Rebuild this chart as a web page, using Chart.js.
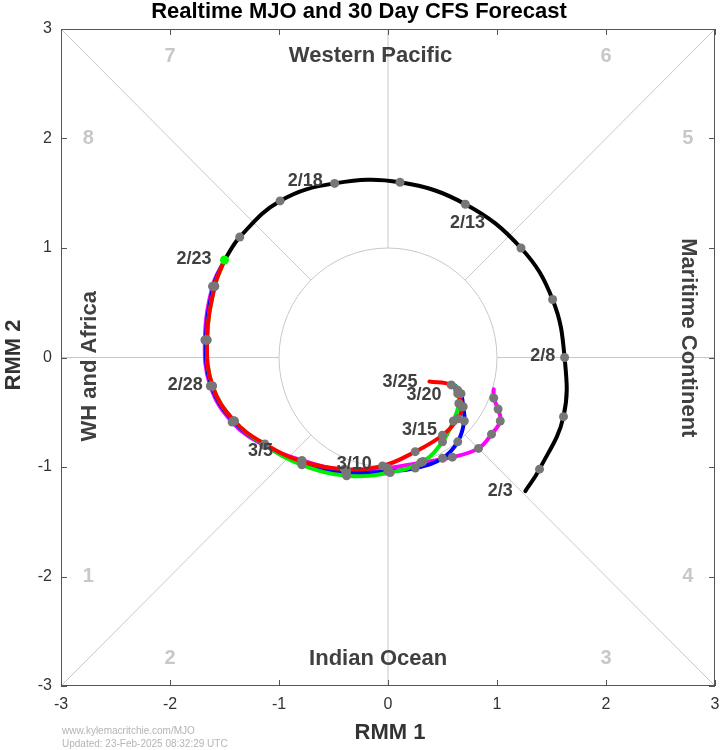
<!DOCTYPE html>
<html>
<head>
<meta charset="utf-8">
<title>Realtime MJO and 30 Day CFS Forecast</title>
<script src="https://cdn.jsdelivr.net/npm/chart.js@4.4.1/dist/chart.umd.min.js"></script>
<style>
  html, body { margin: 0; padding: 0; background: #fff; }
</style>
</head>
<body>
<canvas id="mjo" width="720" height="750"></canvas>
<script>
// observed RMM index, 2/3 -> 2/23 (last point = today)
const obsX = [1.26, 1.39, 1.61, 1.62, 1.51, 1.22, 0.71, 0.11, -0.49, -0.99, -1.36, -1.50];
const obsY = [-1.22, -1.02, -0.54, 0.00, 0.53, 1.00, 1.40, 1.60, 1.59, 1.43, 1.10, 0.89];

// CFS forecast members, all starting from 2/23
const redX = [-1.50, -1.59, -1.66, -1.61, -1.41, -1.13, -0.79, -0.40, -0.05, 0.25, 0.50, 0.64, 0.68, 0.64, 0.58, 0.38];
const redY = [0.89, 0.65, 0.16, -0.26, -0.58, -0.79, -0.95, -1.02, -0.99, -0.86, -0.71, -0.56, -0.45, -0.33, -0.25, -0.22];
const greenX = [-1.50, -1.59, -1.66, -1.61, -1.41, -1.13, -0.79, -0.38, 0.02, 0.32, 0.50, 0.60, 0.65, 0.64, 0.60];
const greenY = [0.89, 0.65, 0.16, -0.26, -0.58, -0.80, -0.98, -1.08, -1.05, -0.95, -0.77, -0.58, -0.42, -0.30, -0.24];
const blueX = [-1.50, -1.60, -1.67, -1.62, -1.42, -1.13, -0.79, -0.38, 0.00, 0.25, 0.50, 0.64, 0.70, 0.69, 0.67, 0.62];
const blueY = [0.89, 0.65, 0.16, -0.26, -0.58, -0.80, -0.97, -1.05, -1.04, -1.01, -0.92, -0.77, -0.58, -0.45, -0.33, -0.26];
const magentaX = [-1.50, -1.61, -1.68, -1.63, -1.43, -1.14, -0.79, -0.38, 0.00, 0.30, 0.59, 0.83, 0.95, 1.03, 1.01, 0.97, 0.97];
const magentaY = [0.89, 0.65, 0.16, -0.26, -0.59, -0.80, -0.94, -1.03, -1.01, -0.96, -0.91, -0.83, -0.70, -0.58, -0.47, -0.37, -0.29];

// date labels (centre of each label, RMM units)
const dateText = ['2/3', '2/8', '2/13', '2/18', '2/23', '2/28', '3/5', '3/10', '3/15', '3/20', '3/25'];
const dateX = [1.03, 1.42, 0.73, -0.76, -1.78, -1.86, -1.17, -0.31, 0.29, 0.33, 0.11];
const dateY = [-1.22, 0.01, 1.23, 1.61, 0.90, -0.25, -0.85, -0.97, -0.66, -0.34, -0.22];

const axisTicks = [-3, -2, -1, 0, 1, 2, 3];

// phase numbers
const phaseText = ['1', '2', '3', '4', '5', '6', '7', '8'];
const phaseX = [-2.75, -2.0, 2.0, 2.75, 2.75, 2.0, -2.0, -2.75];
const phaseY = [-2.0, -2.75, -2.75, -2.0, 2.0, 2.75, 2.75, 2.0];

// region names
const regionText = ['Western Pacific', 'Indian Ocean', 'WH and Africa', 'Maritime Continent'];
const regionX = [-0.16, -0.09, -2.73, 2.75];
const regionY = [2.75, -2.75, -0.08, 0.18];
const regionRot = [0, 0, -90, 90];

function pts(xs, ys) {
    return xs.map(function (v, i) { return { x: v, y: ys[i] }; });
}

// inner points only (no dot on the very first / last vertex)
function inner(xs, ys) {
    return pts(xs, ys).slice(1, xs.length - 1);
}

function track(label, xs, ys, color, order) {
    return {
        label: label,
        data: pts(xs, ys),
        showLine: true,
        borderColor: color,
        borderWidth: 4,
        tension: 0.4,
        pointRadius: 0,
        borderCapStyle: 'round',
        borderJoinStyle: 'round',
        order: order
    };
}

function dots(data, color) {
    return {
        data: data,
        showLine: false,
        pointRadius: 4.5,
        pointBackgroundColor: color,
        pointBorderWidth: 0,
        order: 0
    };
}

const forecastDots = [].concat(
    inner(magentaX, magentaY),
    inner(blueX, blueY),
    inner(greenX, greenY),
    inner(redX, redY)
);

const LIGHT = '#c8c8c8';
const DARK = '#404040';

const mjoDecor = {
    id: 'mjoDecor',
    beforeDatasetsDraw(chart) {
        const { ctx, scales: { x, y } } = chart;
        ctx.save();
        ctx.strokeStyle = LIGHT;
        ctx.lineWidth = 1;

        // spokes from unit circle to the frame
        ctx.beginPath();
        for (let k = 0; k < 8; k++) {
            const a = k * Math.PI / 4;
            const c = Math.round(Math.cos(a) * 1e6) / 1e6;
            const s = Math.round(Math.sin(a) * 1e6) / 1e6;
            const m = 3 / Math.max(Math.abs(c), Math.abs(s));
            ctx.moveTo(x.getPixelForValue(c), y.getPixelForValue(s));
            ctx.lineTo(x.getPixelForValue(c * m), y.getPixelForValue(s * m));
        }
        ctx.stroke();

        // amplitude 1 circle
        ctx.beginPath();
        const cx = x.getPixelForValue(0), cy = y.getPixelForValue(0);
        ctx.ellipse(cx, cy, x.getPixelForValue(1) - cx, cy - y.getPixelForValue(1), 0, 0, Math.PI * 2);
        ctx.stroke();

        ctx.textAlign = 'center';
        ctx.textBaseline = 'middle';

        ctx.fillStyle = LIGHT;
        ctx.font = 'bold 20px "Liberation Sans", Arial, sans-serif';
        phaseText.forEach(function (t, i) {
            ctx.fillText(t, x.getPixelForValue(phaseX[i]), y.getPixelForValue(phaseY[i]));
        });

        ctx.fillStyle = DARK;
        ctx.font = 'bold 22px "Liberation Sans", Arial, sans-serif';
        regionText.forEach(function (t, i) {
            ctx.save();
            ctx.translate(x.getPixelForValue(regionX[i]), y.getPixelForValue(regionY[i]));
            ctx.rotate(regionRot[i] * Math.PI / 180);
            ctx.fillText(t, 0, 0);
            ctx.restore();
        });
        ctx.restore();
    },
    afterDatasetsDraw(chart) {
        const { ctx, chartArea: a, scales: { x, y } } = chart;
        ctx.save();

        // date labels
        ctx.fillStyle = DARK;
        ctx.font = 'bold 18px "Liberation Sans", Arial, sans-serif';
        ctx.textAlign = 'center';
        ctx.textBaseline = 'middle';
        dateText.forEach(function (t, i) {
            ctx.fillText(t, x.getPixelForValue(dateX[i]), y.getPixelForValue(dateY[i]));
        });

        // frame with inward ticks
        ctx.strokeStyle = '#555';
        ctx.lineWidth = 1;
        ctx.strokeRect(a.left + 0.5, a.top + 0.5, a.right - a.left - 1, a.bottom - a.top - 1);
        ctx.beginPath();
        axisTicks.forEach(function (v) {
            const px = Math.round(x.getPixelForValue(v)) + 0.5;
            const py = Math.round(y.getPixelForValue(v)) + 0.5;
            ctx.moveTo(px, a.top); ctx.lineTo(px, a.top + 6);
            ctx.moveTo(px, a.bottom); ctx.lineTo(px, a.bottom - 6);
            ctx.moveTo(a.left, py); ctx.lineTo(a.left + 6, py);
            ctx.moveTo(a.right, py); ctx.lineTo(a.right - 6, py);
        });
        ctx.stroke();

        // title, axis titles, footer
        ctx.fillStyle = '#000';
        ctx.font = 'bold 22px "Liberation Sans", Arial, sans-serif';
        ctx.fillText('Realtime MJO and 30 Day CFS Forecast', 359, 12);

        ctx.fillStyle = '#333';
        ctx.fillText('RMM 1', 390, 733);
        ctx.save();
        ctx.translate(14, 355);
        ctx.rotate(-Math.PI / 2);
        ctx.fillText('RMM 2', 0, 0);
        ctx.restore();

        ctx.fillStyle = '#b4b4b4';
        ctx.font = '10px "Liberation Sans", Arial, sans-serif';
        ctx.textAlign = 'left';
        ctx.fillText('www.kylemacritchie.com/MJO', 62, 731);
        ctx.fillText('Updated: 23-Feb-2025 08:32:29 UTC', 62, 744);
        ctx.restore();
    }
};

const tickFont = { family: '"Liberation Sans", Arial, sans-serif', size: 16 };

const config = {
    type: 'scatter',
    data: {
        datasets: [
            dots(inner(obsX, obsY).concat(forecastDots), '#777777'),
            dots(pts(obsX, obsY).slice(-1), '#00ff00'),
            track('Red', redX, redY, '#ff0000', 1),
            track('Green', greenX, greenY, '#00ee00', 2),
            track('Blue', blueX, blueY, '#0000ff', 3),
            track('Magenta', magentaX, magentaY, '#ff00ff', 4),
            track('Observed', obsX, obsY, '#000000', 5)
        ]
    },
    options: {
        responsive: false,
        animation: false,
        layout: { padding: { top: 29, right: 5, left: 0, bottom: 0 } },
        plugins: {
            legend: { display: false },
            title: { display: false },
            tooltip: { enabled: false }
        },
        scales: {
            x: {
                type: 'linear',
                min: -3,
                max: 3,
                grid: { display: false, drawTicks: false },
                border: { display: false },
                ticks: { stepSize: 1, padding: 9, color: '#333', font: tickFont },
                afterFit: function (scale) {
                    scale.height = 64;
                    // let the end labels hang over the frame like the original
                    scale.paddingLeft = 0;
                    scale.paddingRight = 0;
                }
            },
            y: {
                type: 'linear',
                min: -3,
                max: 3,
                grid: { display: false, drawTicks: false },
                border: { display: false },
                ticks: { stepSize: 1, padding: 9, color: '#333', font: tickFont },
                afterFit: function (scale) {
                    scale.width = 61;
                    scale.paddingTop = 0;
                    scale.paddingBottom = 0;
                }
            }
        }
    },
    plugins: [mjoDecor]
};

let mjo = new Chart(document.getElementById('mjo'), config);
</script>
</body>
</html>
